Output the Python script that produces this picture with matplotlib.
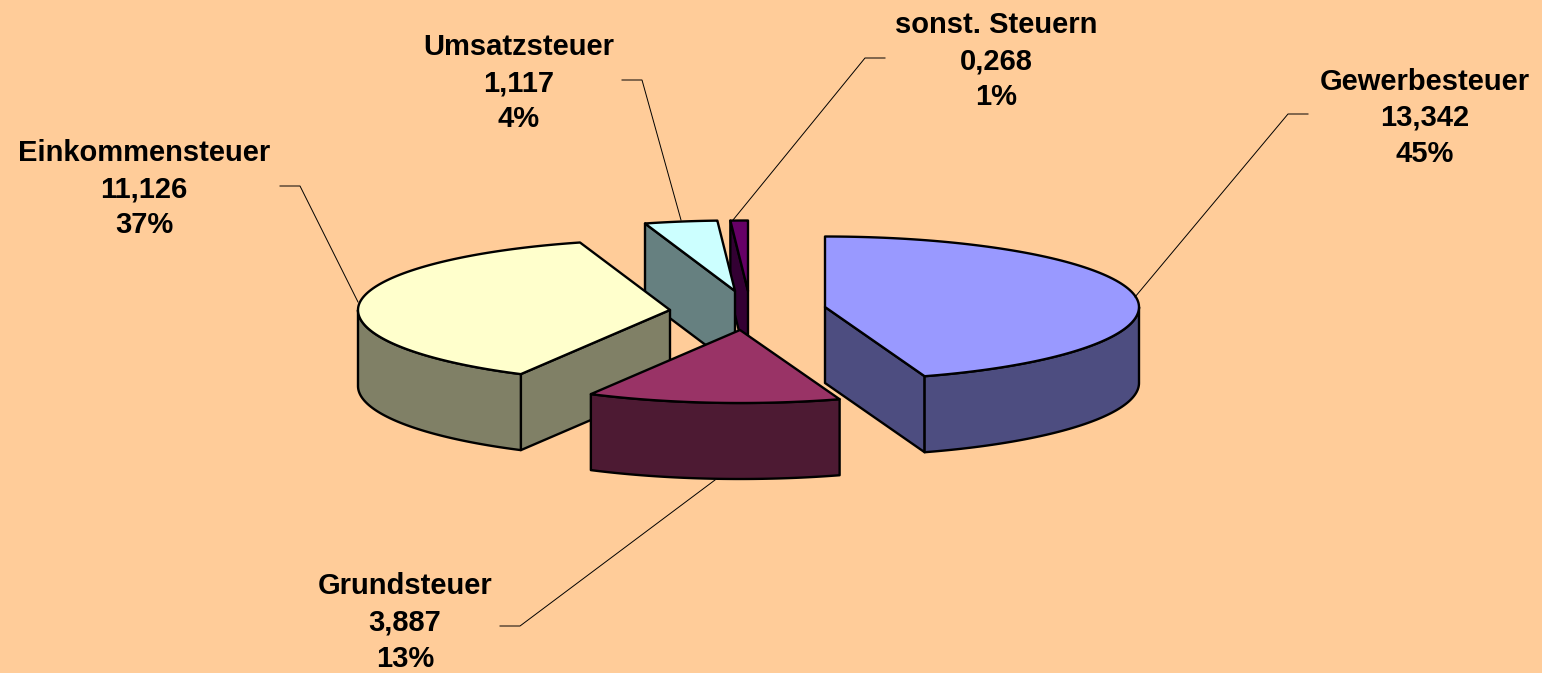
import matplotlib

matplotlib.use("Agg")
import matplotlib.pyplot as plt
import numpy as np

# Steuerarten, Werte aus dem Bild
categories = ["Gewerbesteuer", "Grundsteuer", "Einkommensteuer", "Umsatzsteuer", "sonst. Steuern"]
values = [13.342, 3.887, 11.126, 1.117, 0.268]

top_colors = ["#9999FF", "#993366", "#FFFFCC", "#CCFFFF", "#660066"]
side_colors = ["#4D4D80", "#4D1A33", "#808066", "#668080", "#330033"]

# layout in pixels of the 1542x673 picture
APEX = [(825, 307), (740, 330), (670, 310), (735, 291), (748, 291)]
LABEL_POS = [(1425, 118), (405, 622.5), (144, 189), (519, 83), (996, 61)]
LEADERS = [
    [(1135, 297), (1288, 114), (1308, 114)],
    [(715, 480), (520, 626), (500, 626)],
    [(358, 302), (300, 186), (280, 186)],
    [(681, 220), (642, 80), (622, 80)],
    [(733, 220), (865, 58), (885, 58)],
]
DRAW_ORDER = [4, 3, 2, 0, 1]
DEPTH = 76.0
BG = "#FFCC99"


def rim(apex, angles):
    rad = np.radians(angles)
    sin, cos = np.sin(rad), np.cos(rad)
    # the source ellipse is not quite symmetric
    rx = np.where(sin < 0, 312.0, 314.0)
    ry = np.where(cos < 0, 73.0, 70.5)
    return np.column_stack((apex[0] + rx * sin, apex[1] - ry * cos))


def draw_face(ax, pts, color):
    ax.fill(pts[:, 0], pts[:, 1], facecolor=color, edgecolor="black", linewidth=1.7, joinstyle="round")


def draw_wall(ax, apex, angle, color):
    edge = rim(apex, np.array([angle]))[0]
    pts = np.array([apex, edge, edge + (0, DEPTH), np.array(apex) + (0, DEPTH)], dtype=float)
    draw_face(ax, pts, color)


fig = plt.figure(figsize=(15.42, 6.73), dpi=100, facecolor=BG)
ax = fig.add_axes([0, 0, 1, 1])
ax.set_xlim(0, 1542)
ax.set_ylim(673, 0)
ax.axis("off")

shares = np.array(values) / sum(values)
ends = np.cumsum(shares) * 360.0
starts = ends - shares * 360.0

for i in DRAW_ORDER:
    a0, a1 = starts[i], ends[i]
    apex = APEX[i]

    # only walls facing the viewer
    if np.cos(np.radians(a0 - 90)) < -1e-6:
        draw_wall(ax, apex, a0, side_colors[i])
    if np.cos(np.radians(a1 + 90)) < -1e-6:
        draw_wall(ax, apex, a1, side_colors[i])

    lo, hi = max(a0, 90.0), min(a1, 270.0)
    if lo < hi:
        edge = rim(apex, np.linspace(lo, hi, 80))
        pts = np.vstack((edge, edge[::-1] + (0, DEPTH)))
        draw_face(ax, pts, side_colors[i])

    arc = rim(apex, np.linspace(a0, a1, 120))
    draw_face(ax, np.vstack(([apex], arc)), top_colors[i])

for i, name in enumerate(categories):
    line = np.array(LEADERS[i])
    ax.plot(line[:, 0], line[:, 1], color="black", linewidth=0.7)
    number = f"{values[i]:.3f}".replace(".", ",")
    percent = f"{shares[i] * 100:.0f}%"
    ax.text(
        LABEL_POS[i][0],
        LABEL_POS[i][1],
        f"{name}\n{number}\n{percent}",
        ha="center",
        va="center",
        multialignment="center",
        family="Liberation Sans",
        fontweight="bold",
        fontsize=21,
        linespacing=1.38,
    )

fig.savefig("out.png", dpi=100, facecolor=BG)
